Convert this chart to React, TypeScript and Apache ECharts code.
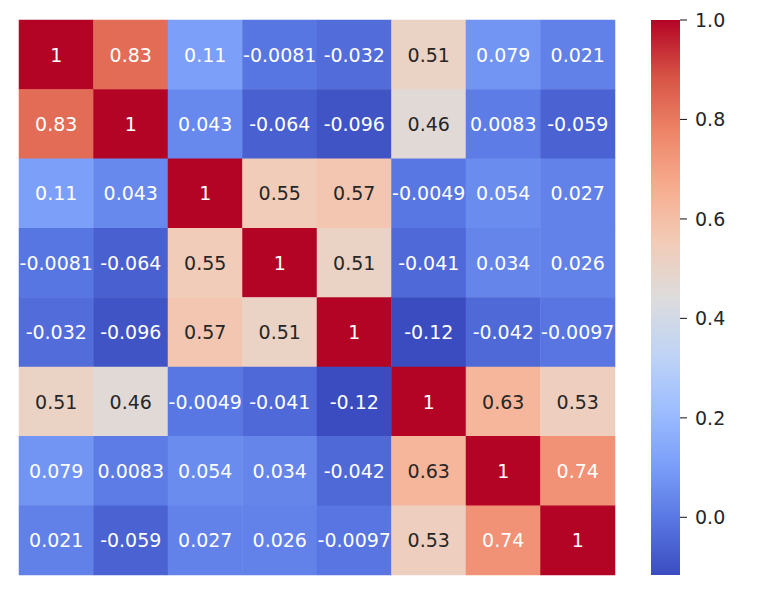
import React, { useEffect, useRef } from "react";
import * as echarts from "echarts";

const rowLabels = ["0", "1", "2", "3", "4", "5", "6", "7"];
const colLabels = ["0", "1", "2", "3", "4", "5", "6", "7"];

const row0 = [1, 0.83, 0.11, -0.0081, -0.032, 0.51, 0.079, 0.021];
const row1 = [0.83, 1, 0.043, -0.064, -0.096, 0.46, 0.0083, -0.059];
const row2 = [0.11, 0.043, 1, 0.55, 0.57, -0.0049, 0.054, 0.027];
const row3 = [-0.0081, -0.064, 0.55, 1, 0.51, -0.041, 0.034, 0.026];
const row4 = [-0.032, -0.096, 0.57, 0.51, 1, -0.116, -0.042, -0.0097];
const row5 = [0.51, 0.46, -0.0049, -0.041, -0.116, 1, 0.63, 0.53];
const row6 = [0.079, 0.0083, 0.054, 0.034, -0.042, 0.63, 1, 0.74];
const row7 = [0.021, -0.059, 0.027, 0.026, -0.0097, 0.53, 0.74, 1];
const matrix = [row0, row1, row2, row3, row4, row5, row6, row7];

const colorbarTicks = [0, 0.2, 0.4, 0.6, 0.8, 1.0];

const coolwarm = [
  "#3b4cc0", "#5977e3", "#7b9ff9", "#9ebeff", "#c0d4f5", "#dddcdc",
  "#f2cbb7", "#f7ac8e", "#ee8468", "#d65244", "#b40426",
];

function hexToRgb(h: string) {
  return [parseInt(h.slice(1, 3), 16), parseInt(h.slice(3, 5), 16), parseInt(h.slice(5, 7), 16)];
}

function colorAt(t: number) {
  const n = coolwarm.length - 1;
  const x = Math.max(0, Math.min(1, t)) * n;
  const i = Math.min(n - 1, Math.floor(x));
  const f = x - i;
  const a = hexToRgb(coolwarm[i]);
  const b = hexToRgb(coolwarm[i + 1]);
  return a.map((c, k) => c + (b[k] - c) * f);
}

function luminance(rgb: number[]) {
  const lin = rgb.map((c) => {
    const s = c / 255;
    return s <= 0.03928 ? s / 12.92 : Math.pow((s + 0.055) / 1.055, 2.4);
  });
  return 0.2126 * lin[0] + 0.7152 * lin[1] + 0.0722 * lin[2];
}

function fmt2g(v: number) {
  return String(Number(v.toPrecision(2)));
}

export default function App() {
  const ref = useRef<HTMLDivElement>(null);
  useEffect(() => {
    if (!ref.current) return;
    const chart = echarts.init(ref.current, undefined, { renderer: "svg" });
    const all = matrix.flat();
    const vmin = Math.min(...all);
    const vmax = Math.max(...all);
    const data: any[] = [];
    matrix.forEach((row, r) => {
      row.forEach((v, c) => {
        const rgb = colorAt((v - vmin) / (vmax - vmin));
        const txt = luminance(rgb) > 0.408 ? "#262626" : "#ffffff";
        data.push({ value: [c, r, v], label: { color: txt } });
      });
    });
    const stops = coolwarm.map((c, i) => ({ offset: i / (coolwarm.length - 1), color: c }));
    const font = "'DejaVu Sans', sans-serif";
    chart.setOption({
      animation: false,
      backgroundColor: "#ffffff",
      grid: [
        { left: 11, top: 12, width: 596, height: 555 },
        { left: 643, top: 12, width: 29, height: 555 },
      ],
      xAxis: [
        { type: "category", data: colLabels, gridIndex: 0, show: false },
        { type: "value", min: 0, max: 1, gridIndex: 1, show: false },
      ],
      yAxis: [
        { type: "category", data: rowLabels, gridIndex: 0, inverse: true, show: false },
        {
          type: "value",
          gridIndex: 1,
          min: vmin,
          max: vmax,
          position: "right",
          axisLine: { show: false },
          splitLine: { show: false },
          axisTick: { show: false },
          axisLabel: {
            show: true,
            margin: 15,
            color: "#262626",
            fontSize: 19,
            fontFamily: font,
            customValues: colorbarTicks,
            formatter: (v: number) => v.toFixed(1),
          },
        },
      ],
      visualMap: {
        show: false,
        type: "continuous",
        seriesIndex: 0,
        min: vmin,
        max: vmax,
        inRange: { color: coolwarm },
      },
      series: [
        {
          type: "heatmap",
          xAxisIndex: 0,
          yAxisIndex: 0,
          data,
          label: {
            show: true,
            fontSize: 19,
            fontFamily: font,
            formatter: (p: any) => fmt2g(p.value[2]),
          },
          itemStyle: { borderWidth: 0 },
          emphasis: { disabled: true },
        },
        {
          type: "custom",
          xAxisIndex: 1,
          yAxisIndex: 1,
          clip: false,
          data: [[0, vmin, 1, vmax]],
          renderItem: (_params: any, api: any) => {
            const p0 = api.coord([api.value(0), api.value(3)]);
            const p1 = api.coord([api.value(2), api.value(1)]);
            const ticks = colorbarTicks.map((t) => {
              const p = api.coord([api.value(2), t]);
              return {
                type: "line",
                shape: { x1: p[0], y1: p[1], x2: p[0] + 7, y2: p[1] },
                style: { stroke: "#262626", lineWidth: 1.1 },
              };
            });
            return {
              type: "group",
              children: [
                {
                  type: "rect",
                  shape: { x: p0[0], y: p0[1], width: p1[0] - p0[0], height: p1[1] - p0[1] },
                  style: { fill: new echarts.graphic.LinearGradient(0, 1, 0, 0, stops) },
                },
                ...ticks,
              ],
            };
          },
        },
      ],
    });
    return () => chart.dispose();
  }, []);
  return <div ref={ref} style={{ width: 743, height: 579 }} />;
}
